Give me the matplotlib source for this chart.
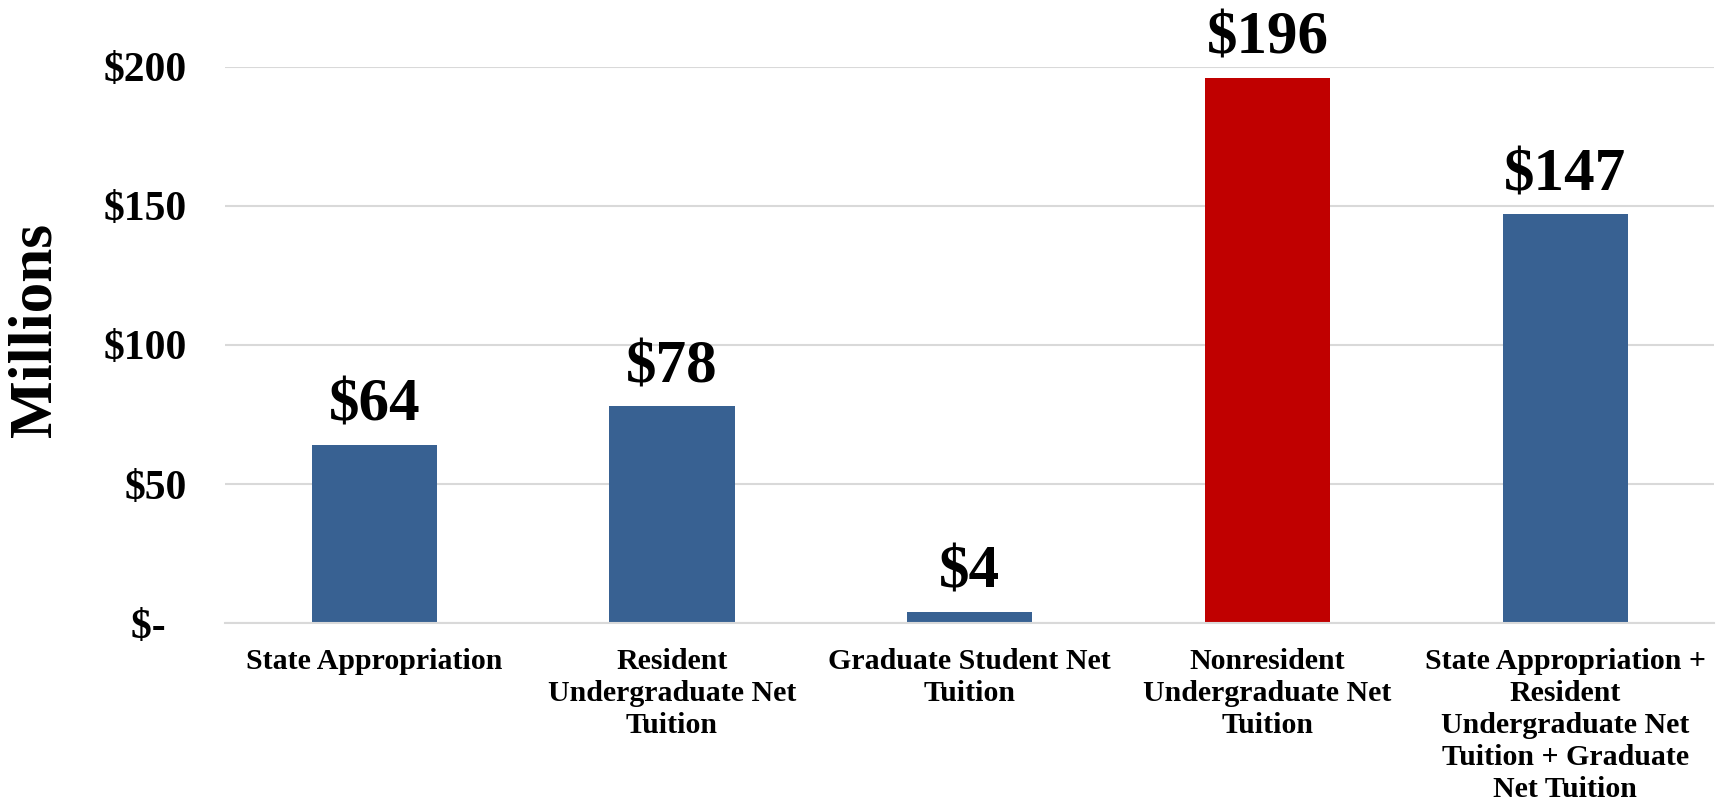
import matplotlib.pyplot as plt

categories = [
    "State Appropriation",
    "Resident\nUndergraduate Net\nTuition",
    "Graduate Student Net\nTuition",
    "Nonresident\nUndergraduate Net\nTuition",
    "State Appropriation +\nResident\nUndergraduate Net\nTuition + Graduate\nNet Tuition",
]
values = [64, 78, 4, 196, 147]
bar_colors = ["#386192", "#386192", "#386192", "#C00000", "#386192"]
y_ticks = [0, 50, 100, 150, 200]
y_tick_labels = ["$-  ", "$50", "$100", "$150", "$200"]

plt.rcParams["font.family"] = ["Liberation Serif", "DejaVu Serif"]
plt.rcParams["font.weight"] = "bold"

fig = plt.figure(figsize=(17.25, 8.09), dpi=100)
ax = fig.add_axes([0.1307, 0.2299, 0.8629, 0.6873])

x = range(len(categories))
bars = ax.bar(x, values, width=0.42, color=bar_colors, zorder=2)

# value labels above each bar
for rect, v in zip(bars, values):
    ax.annotate(f"${v:.0f}", (rect.get_x() + rect.get_width() / 2, v),
                xytext=(0, 8), textcoords="offset points",
                ha="center", va="bottom", fontsize=44, fontweight="bold",
                annotation_clip=False)

ax.set_xlim(-0.5, len(categories) - 0.5)
ax.set_ylim(0, 200)
ax.set_yticks(y_ticks)
ax.set_yticklabels(y_tick_labels, fontsize=30, fontweight="bold")
ax.set_xticks(list(x))
ax.set_xticklabels(categories, fontsize=21.5, fontweight="bold", linespacing=1.24)
ax.tick_params(axis="both", length=0)
ax.tick_params(axis="y", pad=28)
ax.tick_params(axis="x", pad=18)

ax.yaxis.grid(True, color="#D9D9D9", linewidth=1.5, zorder=0)
for side in ["top", "right", "left"]:
    ax.spines[side].set_visible(False)
ax.spines["bottom"].set_color("#D9D9D9")
ax.spines["bottom"].set_linewidth(1.5)

fig.text(0.0203, 0.592, "Millions", rotation=90, ha="center", va="center",
         fontsize=44, fontweight="bold")

fig.savefig("out.png", dpi=100)
